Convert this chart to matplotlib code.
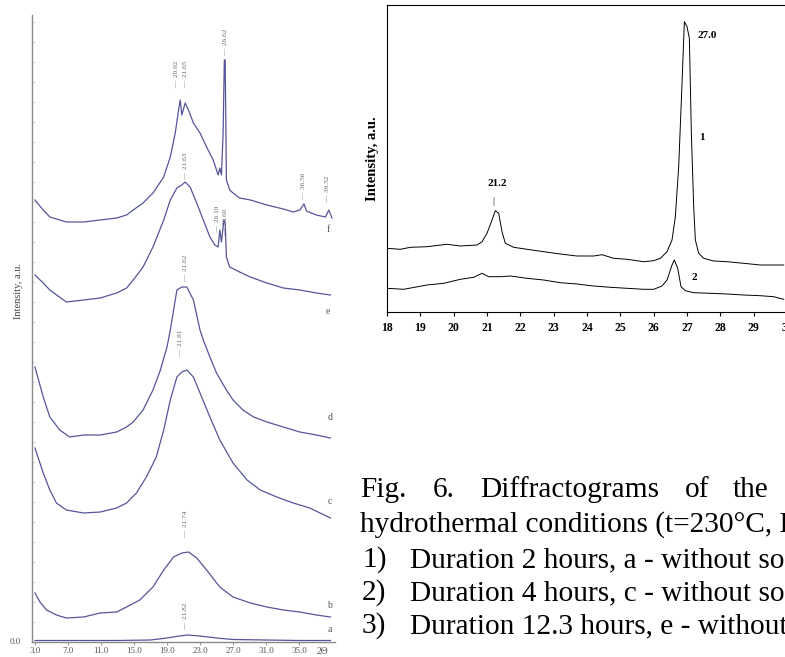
import matplotlib
matplotlib.use("Agg")
import matplotlib.pyplot as plt

plt.rcParams['font.family'] = ['Liberation Serif', 'DejaVu Serif']

# ---------------- Left panel data (2theta, intensity a.u.) ----------------
f_x = [3.0, 4.0, 4.8, 6.8, 8.9, 10.9, 12.9, 14.1, 14.9, 16.1, 17.3, 18.6, 19.4, 20.0, 20.4, 20.6,
       20.8, 21.2, 21.6, 22.2, 23.0, 23.8, 24.6, 25.0, 25.2, 25.4, 25.6, 25.8, 25.95, 26.05, 26.2,
       26.6, 27.0, 27.8, 29.1, 31.1, 33.1, 34.3, 35.1, 35.6, 35.9, 37.1, 38.2, 38.6, 39.0]
f_y = [442, 432, 425, 420, 420, 422, 424, 427, 432, 439, 449, 465, 485, 509, 532, 542,
       527, 539, 532, 519, 509, 495, 482, 472, 467, 474, 467, 509, 582, 582, 462,
       452, 449, 444, 442, 437, 433, 430, 432, 438, 431, 427, 425, 432, 424]

e_x = [3.0, 4.0, 4.8, 6.8, 8.9, 10.9, 12.9, 14.1, 14.9, 16.1, 17.3, 18.6, 19.4, 20.2, 20.8, 21.2,
       21.8, 22.6, 23.4, 24.2, 24.8, 25.2, 25.4, 25.6, 25.9, 26.05, 26.2, 26.6, 27.8, 29.1, 31.1,
       33.1, 35.1, 37.1, 38.8]
e_y = [367, 359, 352, 340, 342, 344, 349, 354, 362, 375, 395, 422, 442, 454, 457, 460,
       455, 439, 422, 405, 397, 395, 412, 400, 422, 419, 385, 375, 370, 365, 359,
       354, 352, 349, 347]

d_x = [3.0, 4.0, 4.8, 6.0, 7.2, 8.9, 10.9, 12.9, 14.1, 14.9, 16.1, 17.3, 18.2, 19.0, 19.4, 20.2,
       20.8, 21.4, 22.2, 23.0, 23.4, 24.2, 25.0, 26.2, 27.0, 28.2, 29.5, 31.1, 33.1, 35.1, 37.1, 38.8]
d_y = [275, 245, 225, 212, 205, 207, 207, 210, 215, 220, 232, 252, 272, 295, 312, 352,
       355, 355, 342, 312, 302, 285, 269, 252, 242, 232, 225, 220, 215, 210, 207, 204]

c_x = [3.0, 4.0, 4.8, 5.6, 6.8, 8.9, 10.9, 12.9, 14.1, 15.3, 16.5, 17.7, 18.6, 19.4, 20.2, 20.8,
       21.4, 22.2, 23.0, 24.2, 25.4, 27.0, 28.7, 30.3, 32.3, 34.3, 36.3, 38.8]
c_y = [194, 169, 152, 139, 132, 129, 130, 134, 139, 149, 165, 185, 212, 242, 265, 270,
       272, 265, 249, 225, 202, 179, 162, 152, 145, 139, 134, 124]

b_x = [3.0, 3.6, 4.4, 5.6, 6.8, 8.9, 10.9, 12.9, 14.1, 15.7, 17.3, 18.6, 19.8, 20.8, 21.6, 22.6,
       23.8, 25.4, 27.0, 29.1, 31.1, 33.1, 35.1, 37.1, 38.8]
b_y = [49, 40, 32, 27, 24, 25, 29, 30, 35, 42, 55, 72, 85, 89, 90, 84,
       72, 55, 45, 39, 35, 32, 30, 27, 25]

a_x = [3.0, 8.0, 13.0, 17.0, 19.0, 20.5, 21.5, 23.0, 25.0, 27.0, 31.0, 35.0, 38.8]
a_y = [1.5, 1.5, 1.5, 2.0, 4.0, 6.0, 7.0, 6.0, 4.0, 2.5, 2.0, 1.5, 1.5]

left_curves = [(a_x, a_y), (b_x, b_y), (c_x, c_y), (d_x, d_y), (e_x, e_y), (f_x, f_y)]
left_ticks = [3.0, 7.0, 11.0, 15.0, 19.0, 23.0, 27.0, 31.0, 35.0]
left_tick_labels = ["3.0", "7.0", "11.0", "15.0", "19.0", "23.0", "27.0", "31.0", "35.0"]

# peak labels: (text, 2theta, intensity at bottom of label)
left_peaks = [("20.92", 20.2, 554), ("21.65", 21.2, 554), ("26.62", 26.15, 586),
              ("36.56", 35.6, 442), ("39.52", 38.5, 439), ("21.63", 21.2, 462),
              ("26.10", 25.15, 409), ("26.60", 26.05, 406), ("21.62", 21.2, 360),
              ("21.81", 20.6, 285), ("21.74", 21.2, 104), ("21.82", 21.2, 12)]
curve_names = [("f", 38.5, 412), ("e", 38.5, 330), ("d", 38.75, 224),
               ("c", 38.75, 141), ("b", 38.75, 37), ("a", 38.75, 12)]

# ---------------- Right panel data ----------------
r1_x = [18.0, 18.4, 18.7, 19.2, 19.8, 20.2, 20.7, 20.85, 21.0, 21.15, 21.25, 21.35, 21.45, 21.55,
        21.8, 22.2, 22.7, 23.2, 23.7, 24.2, 24.45, 24.8, 25.2, 25.7, 26.0, 26.2, 26.4, 26.55,
        26.65, 26.75, 26.85, 26.92, 27.0, 27.07, 27.13, 27.2, 27.25, 27.35, 27.5, 27.8, 28.2,
        28.7, 29.2, 29.9]
r1_y = [63.7, 62.7, 64.7, 65.3, 67.7, 66, 67, 70.3, 78.7, 92, 101.3, 98.7, 80.3, 68.7,
        64.7, 62.7, 60.3, 58, 56, 56, 57.3, 53.7, 52.7, 50.3, 51.3, 53.7, 60.3, 72,
        95.3, 145.3, 228.7, 290.3, 285.3, 273.7, 178.7, 105.3, 72, 58.7, 53.7, 51, 50.3,
        48.7, 47, 47]
r2_x = [18.0, 18.5, 19.2, 19.7, 20.2, 20.6, 20.85, 21.05, 21.4, 21.7, 22.2, 22.7, 23.2, 23.7,
        24.2, 24.7, 25.2, 25.7, 26.0, 26.25, 26.4, 26.55, 26.62, 26.72, 26.82, 26.95, 27.2,
        27.7, 28.2, 28.7, 29.2, 29.6, 29.9]
r2_y = [23.7, 22.7, 27, 28.7, 32.7, 34.7, 38.7, 35.3, 35.3, 36, 33.7, 32, 29.3, 28,
        26, 24.7, 23.7, 22.7, 22.7, 26, 32, 47, 52, 43.7, 25.3, 21.3, 19.3,
        18.7, 18, 17, 16.3, 15.3, 12.7]
right_ticks = list(range(18, 31))

caption_lines = ["hydrothermal conditions (t=230°C, P",
                 "Duration 2 hours, a - without so",
                 "Duration 4 hours, c - without so",
                 "Duration 12.3 hours, e - without"]
caption_nums = ["1)", "2)", "3)"]
caption_first = ["Fig.", "6.", "Diffractograms", "of", "the"]

# ---------------- figure ----------------
W, H = 785, 657
fig = plt.figure(figsize=(W / 100, H / 100), dpi=100)


def px_axes(x0, y0, x1, y1):
    return fig.add_axes([x0 / W, 1 - y1 / H, (x1 - x0) / W, (y1 - y0) / H])


# Left panel
axL = px_axes(32, 15, 335, 642)
line_col = '#55559a'
for xs, ys in left_curves:
    axL.plot(xs, ys, color=line_col, lw=0.9)
axL.set_xlim(2.64, 39.36)
axL.set_ylim(0, 627)
for s in ['top', 'right']:
    axL.spines[s].set_visible(False)
for s in ['left', 'bottom']:
    axL.spines[s].set_color('#8a8a8a')
    axL.spines[s].set_linewidth(1.0)
axL.set_xticks(left_ticks)
axL.set_xticklabels(left_tick_labels, fontsize=6.5, color='#555555')
axL.tick_params(axis='x', length=2, color='#999999', pad=1.5)
axL.set_yticks(list(range(0, 627, 20)))
axL.set_yticklabels([])
axL.tick_params(axis='y', direction='in', length=2, color='#d5d5d5')
axL.text(-0.055, 0.0, "0.0", transform=axL.transAxes, fontsize=6.5, color='#555555',
         ha='center', va='center')
axL.text(37.9, -5, "2Θ", fontsize=7, color='#555555', ha='center', va='top')
axL.text(-0.045, 0.56, "Intensity, a.u.", transform=axL.transAxes, rotation=90,
         fontsize=7.5, color='#444444', ha='center', va='center')
for txt, xv, yv in left_peaks:
    axL.text(xv, yv, "—  " + txt, rotation=90, fontsize=5.2, color='#666666',
             ha='center', va='bottom')
for txt, xv, yv in curve_names:
    axL.text(xv, yv, txt, fontsize=7, color='#555555', ha='center', va='center')

# Right panel
axR = px_axes(387, 5, 793.7, 312)
axR.plot(r1_x, r1_y, color='black', lw=0.7)
axR.plot(r2_x, r2_y, color='black', lw=0.7)
axR.set_xlim(18, 30.2)
axR.set_ylim(0, 307)
axR.spines['right'].set_visible(False)
for s in ['left', 'bottom', 'top']:
    axR.spines[s].set_linewidth(0.8)
axR.set_xticks(right_ticks)
axR.set_xticklabels([str(t) for t in right_ticks], fontsize=8.5, fontweight='bold')
axR.tick_params(axis='x', direction='out', length=3, width=0.8, pad=4)
axR.set_yticks([])
axR.set_ylabel("Intensity, a.u.", fontsize=10.5, fontweight='bold', labelpad=6)
axR.text(27.6, 277, "27.0", fontsize=8, fontweight='bold', ha='center', va='center')
axR.text(27.45, 174, "1", fontsize=8, fontweight='bold', ha='center', va='center')
axR.text(27.23, 35, "2", fontsize=8, fontweight='bold', ha='center', va='center')
axR.text(21.3, 129, "21.2", fontsize=8, fontweight='bold', ha='center', va='center')
axR.text(21.2, 106, "|", fontsize=7, ha='center', va='bottom')

# Caption text
fs = 21.2
first_x = [360, 433, 480, 685, 733]
for word, xp in zip(caption_first, first_x):
    fig.text(xp / W, 1 - 497 / H, word, fontsize=fs, ha='left', va='baseline')
fig.text(360 / W, 1 - 532 / H, caption_lines[0], fontsize=fs, ha='left', va='baseline')
for i, (num, line) in enumerate(zip(caption_nums, caption_lines[1:])):
    yb = 567 + 33 * i
    fig.text(362 / W, 1 - yb / H, num, fontsize=fs, ha='left', va='baseline')
    fig.text(410 / W, 1 - yb / H, line, fontsize=fs, ha='left', va='baseline')

fig.savefig("out.png", dpi=100)
